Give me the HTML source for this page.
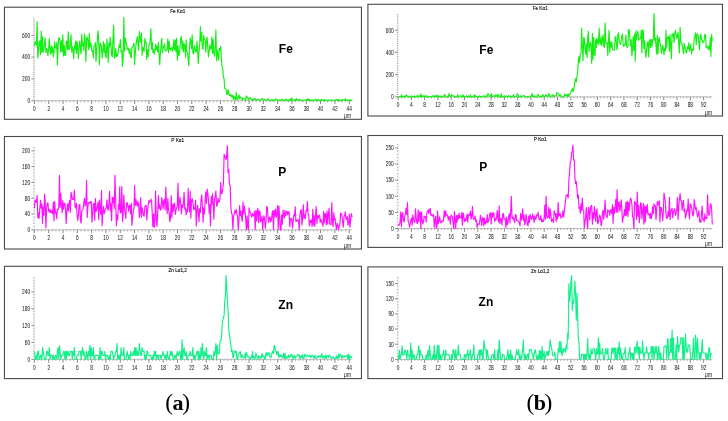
<!DOCTYPE html>
<html><head><meta charset="utf-8"><style>
html,body{margin:0;padding:0;background:#fff;}
body{width:728px;height:421px;overflow:hidden;position:relative;}
svg{position:absolute;left:0;top:0;will-change:transform;}
text{font-family:"Liberation Sans",sans-serif;}
.t{font-size:5.3px;fill:#111;stroke:#111;stroke-width:0.15;text-anchor:middle;}
.xl{font-size:6.4px;fill:#2a2a2a;stroke:#2a2a2a;stroke-width:0.06;text-anchor:middle;}
.yl{font-size:6.4px;fill:#2a2a2a;stroke:#2a2a2a;stroke-width:0.06;text-anchor:end;}
.u{font-size:6.3px;fill:#222;text-anchor:middle;}
.el{font-size:12px;font-weight:bold;fill:#000;}
.bd{fill:none;stroke:#4a4a4a;stroke-width:1.1;}
.ax{stroke:#b5b5b5;stroke-width:0.9;}
.axd{stroke:#c8c8c8;stroke-width:0.8;stroke-dasharray:1 0.8;}
.tk{stroke:#666;stroke-width:0.8;fill:none;}
.mtk{stroke:#888;stroke-width:0.7;fill:none;}
.cap{font-family:"Liberation Serif",serif;fill:#000;}
</style></head><body>
<svg width="728" height="421" viewBox="0 0 728 421">
<rect x="4.45" y="7.2" width="357.00" height="112.10" class="bd"/>
<text transform="translate(177.7 13.1) scale(0.88 1)" class="t">Fe Kα1</text>
<line x1="34.4" y1="100.7" x2="352.1" y2="100.7" class="ax"/>
<line x1="34.4" y1="98.7" x2="34.4" y2="17.9" class="axd"/>
<text transform="translate(34.40 111.2) scale(0.75 1)" class="xl">0</text>
<text transform="translate(48.71 111.2) scale(0.75 1)" class="xl">2</text>
<text transform="translate(63.02 111.2) scale(0.75 1)" class="xl">4</text>
<text transform="translate(77.33 111.2) scale(0.75 1)" class="xl">6</text>
<text transform="translate(91.64 111.2) scale(0.75 1)" class="xl">8</text>
<text transform="translate(105.95 111.2) scale(0.75 1)" class="xl">10</text>
<text transform="translate(120.26 111.2) scale(0.75 1)" class="xl">12</text>
<text transform="translate(134.57 111.2) scale(0.75 1)" class="xl">14</text>
<text transform="translate(148.88 111.2) scale(0.75 1)" class="xl">16</text>
<text transform="translate(163.19 111.2) scale(0.75 1)" class="xl">18</text>
<text transform="translate(177.50 111.2) scale(0.75 1)" class="xl">20</text>
<text transform="translate(191.81 111.2) scale(0.75 1)" class="xl">22</text>
<text transform="translate(206.12 111.2) scale(0.75 1)" class="xl">24</text>
<text transform="translate(220.43 111.2) scale(0.75 1)" class="xl">26</text>
<text transform="translate(234.74 111.2) scale(0.75 1)" class="xl">28</text>
<text transform="translate(249.05 111.2) scale(0.75 1)" class="xl">30</text>
<text transform="translate(263.36 111.2) scale(0.75 1)" class="xl">32</text>
<text transform="translate(277.67 111.2) scale(0.75 1)" class="xl">34</text>
<text transform="translate(291.98 111.2) scale(0.75 1)" class="xl">36</text>
<text transform="translate(306.29 111.2) scale(0.75 1)" class="xl">38</text>
<text transform="translate(320.60 111.2) scale(0.75 1)" class="xl">40</text>
<text transform="translate(334.91 111.2) scale(0.75 1)" class="xl">42</text>
<text transform="translate(349.22 111.2) scale(0.75 1)" class="xl">44</text>
<path d="M34.40 100.7v3.4 M48.71 100.7v3.4 M63.02 100.7v3.4 M77.33 100.7v3.4 M91.64 100.7v3.4 M105.95 100.7v3.4 M120.26 100.7v3.4 M134.57 100.7v3.4 M148.88 100.7v3.4 M163.19 100.7v3.4 M177.50 100.7v3.4 M191.81 100.7v3.4 M206.12 100.7v3.4 M220.43 100.7v3.4 M234.74 100.7v3.4 M249.05 100.7v3.4 M263.36 100.7v3.4 M277.67 100.7v3.4 M291.98 100.7v3.4 M306.29 100.7v3.4 M320.60 100.7v3.4 M334.91 100.7v3.4 M349.22 100.7v3.4" class="tk"/>
<path d="M37.98 100.7v1.6 M41.55 100.7v1.6 M45.13 100.7v1.6 M52.29 100.7v1.6 M55.86 100.7v1.6 M59.44 100.7v1.6 M66.60 100.7v1.6 M70.17 100.7v1.6 M73.75 100.7v1.6 M80.91 100.7v1.6 M84.48 100.7v1.6 M88.06 100.7v1.6 M95.22 100.7v1.6 M98.79 100.7v1.6 M102.37 100.7v1.6 M109.53 100.7v1.6 M113.10 100.7v1.6 M116.68 100.7v1.6 M123.84 100.7v1.6 M127.41 100.7v1.6 M130.99 100.7v1.6 M138.15 100.7v1.6 M141.72 100.7v1.6 M145.30 100.7v1.6 M152.46 100.7v1.6 M156.03 100.7v1.6 M159.61 100.7v1.6 M166.77 100.7v1.6 M170.34 100.7v1.6 M173.92 100.7v1.6 M181.08 100.7v1.6 M184.66 100.7v1.6 M188.23 100.7v1.6 M195.39 100.7v1.6 M198.97 100.7v1.6 M202.54 100.7v1.6 M209.70 100.7v1.6 M213.28 100.7v1.6 M216.85 100.7v1.6 M224.01 100.7v1.6 M227.59 100.7v1.6 M231.16 100.7v1.6 M238.32 100.7v1.6 M241.90 100.7v1.6 M245.47 100.7v1.6 M252.63 100.7v1.6 M256.20 100.7v1.6 M259.78 100.7v1.6 M266.94 100.7v1.6 M270.51 100.7v1.6 M274.09 100.7v1.6 M281.25 100.7v1.6 M284.82 100.7v1.6 M288.40 100.7v1.6 M295.56 100.7v1.6 M299.13 100.7v1.6 M302.71 100.7v1.6 M309.87 100.7v1.6 M313.44 100.7v1.6 M317.02 100.7v1.6 M324.18 100.7v1.6 M327.75 100.7v1.6 M331.33 100.7v1.6 M338.49 100.7v1.6 M342.06 100.7v1.6 M345.64 100.7v1.6" class="mtk"/>
<text transform="translate(30.10 103.0) scale(0.76 1)" class="yl">0</text>
<text transform="translate(30.10 81.2) scale(0.76 1)" class="yl">200</text>
<text transform="translate(30.10 59.4) scale(0.76 1)" class="yl">400</text>
<text transform="translate(30.10 37.6) scale(0.76 1)" class="yl">600</text>
<path d="M31.40 100.70h3.0 M31.40 78.90h3.0 M31.40 57.10h3.0 M31.40 35.30h3.0" class="tk"/>
<path d="M33.20 98.52h1.2 M33.20 96.34h1.2 M33.20 94.16h1.2 M33.20 91.98h1.2 M33.20 89.80h1.2 M33.20 87.62h1.2 M33.20 85.44h1.2 M33.20 83.26h1.2 M33.20 81.08h1.2 M33.20 76.72h1.2 M33.20 74.54h1.2 M33.20 72.36h1.2 M33.20 70.18h1.2 M33.20 68.00h1.2 M33.20 65.82h1.2 M33.20 63.64h1.2 M33.20 61.46h1.2 M33.20 59.28h1.2 M33.20 54.92h1.2 M33.20 52.74h1.2 M33.20 50.56h1.2 M33.20 48.38h1.2 M33.20 46.20h1.2 M33.20 44.02h1.2 M33.20 41.84h1.2 M33.20 39.66h1.2 M33.20 37.48h1.2 M33.20 33.12h1.2 M33.20 30.94h1.2 M33.20 28.76h1.2 M33.20 26.58h1.2 M33.20 24.40h1.2 M33.20 22.22h1.2 M33.20 20.04h1.2 M33.20 17.86h1.2" class="mtk"/>
<text transform="translate(347.4 117.8) scale(0.85 1)" class="u">μm</text>
<polyline points="34.4,45.9 35.1,41.8 35.8,42.7 36.4,45.2 37.1,21.7 37.8,58.0 38.5,50.7 39.1,42.0 39.8,40.8 40.5,54.7 41.2,31.0 41.9,52.2 42.5,36.8 43.2,52.1 43.9,49.2 44.6,41.8 45.2,37.8 45.9,52.4 46.6,48.5 47.3,50.2 47.9,55.7 48.6,48.9 49.3,38.7 50.0,50.0 50.7,54.3 51.3,45.9 52.0,52.6 52.7,47.0 53.4,56.9 54.0,52.3 54.7,41.5 55.4,47.2 56.1,48.7 56.8,42.4 57.4,64.9 58.1,46.9 58.8,37.6 59.5,38.5 60.1,41.2 60.8,51.9 61.5,40.5 62.2,51.4 62.8,34.7 63.5,55.9 64.2,45.4 64.9,55.0 65.6,55.7 66.2,41.2 66.9,40.9 67.6,49.8 68.3,31.8 68.9,48.8 69.6,49.7 70.3,44.1 71.0,34.6 71.7,52.3 72.3,46.6 73.0,49.8 73.7,58.6 74.4,45.5 75.0,49.3 75.7,40.8 76.4,53.4 77.1,41.5 77.8,48.5 78.4,58.5 79.1,46.1 79.8,41.2 80.5,49.6 81.1,53.8 81.8,34.3 82.5,46.0 83.2,43.1 83.8,50.5 84.5,33.8 85.2,40.7 85.9,61.5 86.6,38.3 87.2,37.0 87.9,40.8 88.6,49.4 89.3,33.5 89.9,47.3 90.6,43.1 91.3,45.0 92.0,51.4 92.7,50.7 93.3,57.9 94.0,45.8 94.7,45.5 95.4,42.7 96.0,61.5 96.7,49.2 97.4,39.3 98.1,30.9 98.7,39.9 99.4,64.7 100.1,43.4 100.8,43.8 101.5,47.2 102.1,58.1 102.8,51.7 103.5,41.5 104.2,52.4 104.8,44.1 105.5,55.5 106.2,57.8 106.9,39.2 107.6,49.3 108.2,62.4 108.9,43.1 109.6,47.1 110.3,37.2 110.9,43.7 111.6,55.1 112.3,56.7 113.0,37.8 113.7,25.2 114.3,58.1 115.0,57.6 115.7,48.5 116.4,56.5 117.0,54.1 117.7,55.9 118.4,50.6 119.1,45.1 119.7,47.5 120.4,39.6 121.1,51.9 121.8,50.5 122.5,66.2 123.1,59.5 123.8,17.3 124.5,51.1 125.2,38.1 125.8,40.7 126.5,44.0 127.2,49.6 127.9,47.9 128.6,48.9 129.2,53.5 129.9,48.8 130.6,56.6 131.3,57.8 131.9,47.7 132.6,46.8 133.3,45.5 134.0,43.1 134.6,64.6 135.3,52.4 136.0,44.9 136.7,39.9 137.4,36.5 138.0,43.8 138.7,50.2 139.4,31.4 140.1,39.8 140.7,42.1 141.4,33.1 142.1,55.1 142.8,47.2 143.5,49.9 144.1,51.5 144.8,38.6 145.5,42.8 146.2,42.4 146.8,59.5 147.5,49.5 148.2,56.7 148.9,45.0 149.6,44.8 150.2,39.3 150.9,28.8 151.6,49.1 152.3,42.3 152.9,52.5 153.6,49.4 154.3,54.3 155.0,49.6 155.6,44.3 156.3,49.6 157.0,46.2 157.7,51.9 158.4,42.3 159.0,53.2 159.7,64.7 160.4,51.8 161.1,45.3 161.7,38.3 162.4,52.6 163.1,47.9 163.8,46.6 164.5,43.8 165.1,50.5 165.8,51.2 166.5,50.2 167.2,49.5 167.8,38.8 168.5,52.8 169.2,41.3 169.9,48.5 170.5,50.3 171.2,48.1 171.9,47.4 172.6,51.4 173.3,46.5 173.9,39.6 174.6,49.9 175.3,40.0 176.0,51.6 176.6,38.2 177.3,60.1 178.0,46.2 178.7,55.5 179.4,54.6 180.0,47.4 180.7,38.9 181.4,36.2 182.1,49.1 182.7,41.5 183.4,51.7 184.1,43.3 184.8,46.7 185.5,57.2 186.1,39.8 186.8,51.7 187.5,52.4 188.2,59.7 188.8,65.8 189.5,48.8 190.2,37.8 190.9,41.7 191.5,48.4 192.2,34.9 192.9,52.8 193.6,53.8 194.3,45.8 194.9,49.0 195.6,51.7 196.3,52.0 197.0,41.2 197.6,48.9 198.3,63.3 199.0,51.7 199.7,44.4 200.4,26.6 201.0,40.9 201.7,32.4 202.4,48.7 203.1,49.0 203.7,35.4 204.4,39.3 205.1,40.1 205.8,52.2 206.4,41.6 207.1,37.0 207.8,48.4 208.5,56.8 209.2,50.7 209.8,44.9 210.5,49.0 211.2,48.5 211.9,36.9 212.5,53.3 213.2,39.4 213.9,53.6 214.6,56.1 215.3,46.5 215.9,29.9 216.6,60.7 217.3,50.4 218.0,55.9 218.6,60.1 219.3,48.4 220.0,50.5 220.7,46.3 221.4,59.9 222.0,65.8 222.7,68.4 223.4,77.3 224.1,78.6 224.7,88.3 225.4,88.8 226.1,89.2 226.8,94.3 227.4,94.3 228.1,89.7 228.8,93.6 229.5,95.5 230.2,94.3 230.8,96.4 231.5,94.9 232.2,97.1 232.9,95.3 233.5,99.4 234.2,96.1 234.9,98.9 235.6,99.8 236.3,92.2 236.9,98.8 237.6,99.7 238.3,96.7 239.0,94.8 239.6,98.8 240.3,96.9 241.0,97.9 241.7,98.9 242.3,99.8 243.0,98.0 243.7,98.9 244.4,99.0 245.1,99.0 245.7,100.7 246.4,95.8 247.1,97.5 247.8,97.5 248.4,99.9 249.1,98.4 249.8,98.4 250.5,97.6 251.2,99.9 251.8,99.9 252.5,100.0 253.2,99.2 253.9,100.0 254.5,98.5 255.2,98.5 255.9,100.0 256.6,100.0 257.3,99.3 257.9,99.3 258.6,99.3 259.3,100.0 260.0,100.7 260.6,100.0 261.3,98.7 262.0,99.3 262.7,98.7 263.3,99.4 264.0,100.0 264.7,99.4 265.4,100.0 266.1,100.0 266.7,100.0 267.4,99.4 268.1,98.7 268.8,100.0 269.4,100.7 270.1,100.7 270.8,100.7 271.5,100.0 272.2,99.4 272.8,100.7 273.5,100.0 274.2,100.7 274.9,100.0 275.5,98.7 276.2,99.4 276.9,100.0 277.6,100.7 278.2,100.0 278.9,100.7 279.6,100.0 280.3,100.0 281.0,100.0 281.6,99.4 282.3,100.0 283.0,99.4 283.7,100.7 284.3,100.7 285.0,100.0 285.7,99.4 286.4,99.4 287.1,100.7 287.7,100.0 288.4,100.7 289.1,100.0 289.8,100.7 290.4,98.7 291.1,100.7 291.8,98.1 292.5,100.0 293.2,100.0 293.8,100.7 294.5,100.0 295.2,99.4 295.9,100.7 296.5,98.7 297.2,100.0 297.9,99.4 298.6,100.0 299.2,100.0 299.9,99.4 300.6,100.0 301.3,100.0 302.0,100.7 302.6,100.7 303.3,100.7 304.0,100.0 304.7,100.0 305.3,100.0 306.0,100.0 306.7,99.4 307.4,100.7 308.1,98.7 308.7,100.0 309.4,99.4 310.1,100.7 310.8,100.0 311.4,100.7 312.1,100.0 312.8,100.7 313.5,100.7 314.1,100.0 314.8,100.0 315.5,99.4 316.2,100.7 316.9,100.0 317.5,99.4 318.2,100.7 318.9,100.0 319.6,100.7 320.2,100.0 320.9,100.7 321.6,99.4 322.3,100.0 323.0,100.7 323.6,100.0 324.3,99.4 325.0,100.7 325.7,100.7 326.3,100.0 327.0,100.7 327.7,100.7 328.4,100.0 329.1,100.0 329.7,100.7 330.4,100.0 331.1,100.0 331.8,100.0 332.4,100.0 333.1,100.0 333.8,100.7 334.5,100.7 335.1,100.7 335.8,99.4 336.5,100.0 337.2,99.4 337.9,100.7 338.5,100.0 339.2,99.4 339.9,100.7 340.6,100.7 341.2,100.0 341.9,100.7 342.6,99.4 343.3,100.0 344.0,100.0 344.6,100.7 345.3,98.7 346.0,100.0 346.7,100.0 347.3,100.7 348.0,100.0 348.7,100.0 349.4,100.7 350.0,100.7 350.7,100.0 351.4,100.7 352.1,99.4" fill="none" stroke="#12f012" stroke-width="1.15" stroke-linejoin="round"/>
<text x="278.8" y="52.8" class="el">Fe</text>
<rect x="4.45" y="136.5" width="357.00" height="112.50" class="bd"/>
<text transform="translate(177.7 142.4) scale(0.88 1)" class="t">P Kα1</text>
<line x1="34.4" y1="229.8" x2="352.1" y2="229.8" class="ax"/>
<line x1="34.4" y1="227.8" x2="34.4" y2="146.9" class="axd"/>
<text transform="translate(34.40 240.3) scale(0.75 1)" class="xl">0</text>
<text transform="translate(48.71 240.3) scale(0.75 1)" class="xl">2</text>
<text transform="translate(63.02 240.3) scale(0.75 1)" class="xl">4</text>
<text transform="translate(77.33 240.3) scale(0.75 1)" class="xl">6</text>
<text transform="translate(91.64 240.3) scale(0.75 1)" class="xl">8</text>
<text transform="translate(105.95 240.3) scale(0.75 1)" class="xl">10</text>
<text transform="translate(120.26 240.3) scale(0.75 1)" class="xl">12</text>
<text transform="translate(134.57 240.3) scale(0.75 1)" class="xl">14</text>
<text transform="translate(148.88 240.3) scale(0.75 1)" class="xl">16</text>
<text transform="translate(163.19 240.3) scale(0.75 1)" class="xl">18</text>
<text transform="translate(177.50 240.3) scale(0.75 1)" class="xl">20</text>
<text transform="translate(191.81 240.3) scale(0.75 1)" class="xl">22</text>
<text transform="translate(206.12 240.3) scale(0.75 1)" class="xl">24</text>
<text transform="translate(220.43 240.3) scale(0.75 1)" class="xl">26</text>
<text transform="translate(234.74 240.3) scale(0.75 1)" class="xl">28</text>
<text transform="translate(249.05 240.3) scale(0.75 1)" class="xl">30</text>
<text transform="translate(263.36 240.3) scale(0.75 1)" class="xl">32</text>
<text transform="translate(277.67 240.3) scale(0.75 1)" class="xl">34</text>
<text transform="translate(291.98 240.3) scale(0.75 1)" class="xl">36</text>
<text transform="translate(306.29 240.3) scale(0.75 1)" class="xl">38</text>
<text transform="translate(320.60 240.3) scale(0.75 1)" class="xl">40</text>
<text transform="translate(334.91 240.3) scale(0.75 1)" class="xl">42</text>
<text transform="translate(349.22 240.3) scale(0.75 1)" class="xl">44</text>
<path d="M34.40 229.8v3.4 M48.71 229.8v3.4 M63.02 229.8v3.4 M77.33 229.8v3.4 M91.64 229.8v3.4 M105.95 229.8v3.4 M120.26 229.8v3.4 M134.57 229.8v3.4 M148.88 229.8v3.4 M163.19 229.8v3.4 M177.50 229.8v3.4 M191.81 229.8v3.4 M206.12 229.8v3.4 M220.43 229.8v3.4 M234.74 229.8v3.4 M249.05 229.8v3.4 M263.36 229.8v3.4 M277.67 229.8v3.4 M291.98 229.8v3.4 M306.29 229.8v3.4 M320.60 229.8v3.4 M334.91 229.8v3.4 M349.22 229.8v3.4" class="tk"/>
<path d="M37.98 229.8v1.6 M41.55 229.8v1.6 M45.13 229.8v1.6 M52.29 229.8v1.6 M55.86 229.8v1.6 M59.44 229.8v1.6 M66.60 229.8v1.6 M70.17 229.8v1.6 M73.75 229.8v1.6 M80.91 229.8v1.6 M84.48 229.8v1.6 M88.06 229.8v1.6 M95.22 229.8v1.6 M98.79 229.8v1.6 M102.37 229.8v1.6 M109.53 229.8v1.6 M113.10 229.8v1.6 M116.68 229.8v1.6 M123.84 229.8v1.6 M127.41 229.8v1.6 M130.99 229.8v1.6 M138.15 229.8v1.6 M141.72 229.8v1.6 M145.30 229.8v1.6 M152.46 229.8v1.6 M156.03 229.8v1.6 M159.61 229.8v1.6 M166.77 229.8v1.6 M170.34 229.8v1.6 M173.92 229.8v1.6 M181.08 229.8v1.6 M184.66 229.8v1.6 M188.23 229.8v1.6 M195.39 229.8v1.6 M198.97 229.8v1.6 M202.54 229.8v1.6 M209.70 229.8v1.6 M213.28 229.8v1.6 M216.85 229.8v1.6 M224.01 229.8v1.6 M227.59 229.8v1.6 M231.16 229.8v1.6 M238.32 229.8v1.6 M241.90 229.8v1.6 M245.47 229.8v1.6 M252.63 229.8v1.6 M256.20 229.8v1.6 M259.78 229.8v1.6 M266.94 229.8v1.6 M270.51 229.8v1.6 M274.09 229.8v1.6 M281.25 229.8v1.6 M284.82 229.8v1.6 M288.40 229.8v1.6 M295.56 229.8v1.6 M299.13 229.8v1.6 M302.71 229.8v1.6 M309.87 229.8v1.6 M313.44 229.8v1.6 M317.02 229.8v1.6 M324.18 229.8v1.6 M327.75 229.8v1.6 M331.33 229.8v1.6 M338.49 229.8v1.6 M342.06 229.8v1.6 M345.64 229.8v1.6" class="mtk"/>
<text transform="translate(30.10 232.1) scale(0.76 1)" class="yl">0</text>
<text transform="translate(30.10 216.3) scale(0.76 1)" class="yl">40</text>
<text transform="translate(30.10 200.5) scale(0.76 1)" class="yl">80</text>
<text transform="translate(30.10 184.7) scale(0.76 1)" class="yl">120</text>
<text transform="translate(30.10 168.9) scale(0.76 1)" class="yl">160</text>
<text transform="translate(30.10 153.1) scale(0.76 1)" class="yl">200</text>
<path d="M31.40 229.80h3.0 M31.40 214.00h3.0 M31.40 198.20h3.0 M31.40 182.40h3.0 M31.40 166.60h3.0 M31.40 150.80h3.0" class="tk"/>
<path d="M33.20 226.64h1.2 M33.20 223.48h1.2 M33.20 220.32h1.2 M33.20 217.16h1.2 M33.20 210.84h1.2 M33.20 207.68h1.2 M33.20 204.52h1.2 M33.20 201.36h1.2 M33.20 195.04h1.2 M33.20 191.88h1.2 M33.20 188.72h1.2 M33.20 185.56h1.2 M33.20 179.24h1.2 M33.20 176.08h1.2 M33.20 172.92h1.2 M33.20 169.76h1.2 M33.20 163.44h1.2 M33.20 160.28h1.2 M33.20 157.12h1.2 M33.20 153.96h1.2 M33.20 147.64h1.2" class="mtk"/>
<text transform="translate(347.4 247.5) scale(0.85 1)" class="u">μm</text>
<polyline points="34.4,208.1 35.1,199.8 35.8,202.2 36.4,202.4 37.1,195.3 37.8,217.6 38.5,213.0 39.1,218.5 39.8,208.9 40.5,200.2 41.2,208.2 41.9,204.1 42.5,223.2 43.2,206.9 43.9,215.3 44.6,194.0 45.2,201.0 45.9,227.8 46.6,208.5 47.3,203.2 47.9,202.9 48.6,210.8 49.3,212.0 50.0,209.0 50.7,212.9 51.3,212.8 52.0,210.3 52.7,213.9 53.4,202.0 54.0,220.8 54.7,201.5 55.4,213.0 56.1,212.4 56.8,218.8 57.4,209.2 58.1,210.0 58.8,206.6 59.5,175.3 60.1,207.3 60.8,193.6 61.5,204.8 62.2,212.6 62.8,200.5 63.5,209.1 64.2,203.3 64.9,203.2 65.6,211.2 66.2,223.5 66.9,210.8 67.6,203.7 68.3,211.1 68.9,204.6 69.6,200.3 70.3,212.4 71.0,192.3 71.7,195.1 72.3,199.5 73.0,198.8 73.7,199.3 74.4,190.1 75.0,206.6 75.7,208.1 76.4,203.3 77.1,215.3 77.8,220.5 78.4,215.1 79.1,205.1 79.8,204.3 80.5,220.4 81.1,223.1 81.8,210.6 82.5,209.6 83.2,208.5 83.8,202.7 84.5,198.2 85.2,206.2 85.9,203.2 86.6,180.4 87.2,217.5 87.9,206.2 88.6,202.7 89.3,202.2 89.9,203.3 90.6,201.8 91.3,201.6 92.0,222.1 92.7,214.0 93.3,204.4 94.0,203.3 94.7,220.2 95.4,198.6 96.0,211.6 96.7,209.9 97.4,205.9 98.1,202.0 98.7,219.6 99.4,200.1 100.1,207.5 100.8,214.3 101.5,190.3 102.1,225.7 102.8,213.3 103.5,206.6 104.2,213.8 104.8,210.7 105.5,209.3 106.2,207.7 106.9,199.8 107.6,208.3 108.2,210.2 108.9,203.7 109.6,191.3 110.3,210.8 110.9,203.9 111.6,220.8 112.3,197.2 113.0,202.8 113.7,197.3 114.3,208.6 115.0,175.3 115.7,200.9 116.4,225.9 117.0,215.1 117.7,220.0 118.4,204.4 119.1,209.5 119.7,186.9 120.4,213.0 121.1,212.4 121.8,186.4 122.5,221.6 123.1,215.3 123.8,194.8 124.5,209.1 125.2,213.0 125.8,218.4 126.5,203.4 127.2,202.7 127.9,206.0 128.6,211.2 129.2,205.6 129.9,205.0 130.6,213.6 131.3,203.0 131.9,225.2 132.6,218.5 133.3,210.5 134.0,209.0 134.6,185.6 135.3,205.4 136.0,199.5 136.7,204.4 137.4,206.3 138.0,201.3 138.7,204.8 139.4,217.4 140.1,209.7 140.7,197.6 141.4,217.3 142.1,207.6 142.8,211.2 143.5,215.4 144.1,216.3 144.8,207.3 145.5,205.5 146.2,205.6 146.8,219.9 147.5,210.4 148.2,205.3 148.9,200.4 149.6,202.6 150.2,201.3 150.9,199.1 151.6,201.4 152.3,214.7 152.9,226.6 153.6,213.9 154.3,227.5 155.0,221.8 155.6,191.0 156.3,217.2 157.0,226.4 157.7,212.9 158.4,195.6 159.0,208.4 159.7,204.7 160.4,210.3 161.1,208.8 161.7,197.7 162.4,201.6 163.1,208.8 163.8,200.8 164.5,199.3 165.1,209.9 165.8,187.1 166.5,206.0 167.2,213.6 167.8,198.6 168.5,209.4 169.2,213.2 169.9,221.8 170.5,218.5 171.2,195.6 171.9,217.4 172.6,204.6 173.3,211.1 173.9,203.9 174.6,203.1 175.3,214.4 176.0,210.5 176.6,207.3 177.3,207.1 178.0,183.2 178.7,210.6 179.4,202.8 180.0,197.1 180.7,203.4 181.4,213.9 182.1,204.5 182.7,207.2 183.4,203.9 184.1,192.4 184.8,209.3 185.5,207.6 186.1,214.8 186.8,209.8 187.5,212.1 188.2,188.3 188.8,204.8 189.5,212.0 190.2,191.3 190.9,218.1 191.5,200.0 192.2,198.7 192.9,202.3 193.6,209.1 194.3,208.0 194.9,209.7 195.6,200.3 196.3,226.0 197.0,211.0 197.6,205.4 198.3,211.4 199.0,221.6 199.7,208.6 200.4,212.7 201.0,199.8 201.7,194.8 202.4,205.8 203.1,222.3 203.7,207.9 204.4,213.9 205.1,200.5 205.8,192.1 206.4,203.5 207.1,189.1 207.8,193.6 208.5,200.3 209.2,213.2 209.8,204.4 210.5,225.9 211.2,196.6 211.9,204.1 212.5,193.7 213.2,202.6 213.9,219.3 214.6,198.6 215.3,196.1 215.9,191.1 216.6,206.2 217.3,204.7 218.0,198.2 218.6,202.1 219.3,201.8 220.0,198.8 220.7,182.5 221.4,193.7 222.0,193.4 222.7,189.3 223.4,183.5 224.1,154.4 224.7,155.6 225.4,158.1 226.1,159.7 226.8,153.9 227.4,145.7 228.1,172.8 228.8,169.7 229.5,184.9 230.2,185.4 230.8,205.7 231.5,212.8 232.2,214.8 232.9,229.8 233.5,217.0 234.2,213.8 234.9,210.6 235.6,213.0 236.3,209.3 236.9,214.4 237.6,216.6 238.3,229.8 239.0,220.3 239.6,205.5 240.3,215.7 241.0,210.9 241.7,218.1 242.3,221.3 243.0,202.1 243.7,214.0 244.4,206.0 245.1,212.8 245.7,218.7 246.4,229.8 247.1,215.9 247.8,227.6 248.4,229.8 249.1,207.8 249.8,211.5 250.5,212.1 251.2,216.2 251.8,216.8 252.5,213.6 253.2,215.5 253.9,216.1 254.5,211.4 255.2,229.8 255.9,210.3 256.6,221.1 257.3,210.6 257.9,208.4 258.6,222.6 259.3,211.1 260.0,211.2 260.6,221.8 261.3,220.6 262.0,216.1 262.7,229.8 263.3,220.1 264.0,215.7 264.7,220.2 265.4,228.3 266.1,219.8 266.7,206.5 267.4,207.8 268.1,217.9 268.8,222.7 269.4,217.2 270.1,217.0 270.8,221.9 271.5,219.5 272.2,212.8 272.8,210.6 273.5,229.8 274.2,210.3 274.9,216.2 275.5,209.1 276.2,217.3 276.9,214.1 277.6,205.7 278.2,229.8 278.9,206.1 279.6,215.8 280.3,229.8 281.0,229.8 281.6,215.0 282.3,224.3 283.0,210.2 283.7,215.6 284.3,218.1 285.0,210.2 285.7,215.8 286.4,212.0 287.1,211.4 287.7,214.9 288.4,211.7 289.1,211.7 289.8,226.6 290.4,219.0 291.1,218.0 291.8,219.8 292.5,228.1 293.2,221.1 293.8,214.9 294.5,215.9 295.2,206.7 295.9,221.4 296.5,220.3 297.2,221.2 297.9,219.5 298.6,221.5 299.2,229.8 299.9,215.0 300.6,210.6 301.3,209.7 302.0,224.9 302.6,218.8 303.3,204.7 304.0,218.2 304.7,215.1 305.3,218.6 306.0,210.6 306.7,210.9 307.4,201.6 308.1,214.2 308.7,214.5 309.4,225.9 310.1,220.4 310.8,222.5 311.4,219.9 312.1,226.7 312.8,209.4 313.5,224.9 314.1,215.9 314.8,226.4 315.5,215.4 316.2,206.5 316.9,223.4 317.5,215.3 318.2,218.3 318.9,215.9 319.6,215.0 320.2,222.2 320.9,219.1 321.6,222.0 322.3,223.6 323.0,226.3 323.6,211.4 324.3,223.0 325.0,213.5 325.7,214.3 326.3,224.9 327.0,211.0 327.7,223.9 328.4,213.8 329.1,208.2 329.7,223.0 330.4,224.5 331.1,224.6 331.8,202.6 332.4,220.8 333.1,226.8 333.8,212.7 334.5,219.5 335.1,218.5 335.8,225.1 336.5,229.8 337.2,223.3 337.9,225.5 338.5,229.4 339.2,225.8 339.9,224.9 340.6,213.1 341.2,213.8 341.9,215.1 342.6,222.2 343.3,227.1 344.0,216.6 344.6,215.5 345.3,211.9 346.0,218.8 346.7,219.5 347.3,216.6 348.0,224.9 348.7,224.1 349.4,214.4 350.0,227.2 350.7,219.3 351.4,213.5 352.1,217.2" fill="none" stroke="#ff12ff" stroke-width="1.15" stroke-linejoin="round"/>
<text x="278.3" y="175.9" class="el">P</text>
<rect x="4.45" y="266.3" width="357.00" height="112.30" class="bd"/>
<text transform="translate(177.7 272.2) scale(0.88 1)" class="t">Zn Lα1,2</text>
<line x1="34.4" y1="359.3" x2="352.1" y2="359.3" class="ax"/>
<line x1="34.4" y1="357.3" x2="34.4" y2="276.5" class="axd"/>
<text transform="translate(34.40 369.8) scale(0.75 1)" class="xl">0</text>
<text transform="translate(48.71 369.8) scale(0.75 1)" class="xl">2</text>
<text transform="translate(63.02 369.8) scale(0.75 1)" class="xl">4</text>
<text transform="translate(77.33 369.8) scale(0.75 1)" class="xl">6</text>
<text transform="translate(91.64 369.8) scale(0.75 1)" class="xl">8</text>
<text transform="translate(105.95 369.8) scale(0.75 1)" class="xl">10</text>
<text transform="translate(120.26 369.8) scale(0.75 1)" class="xl">12</text>
<text transform="translate(134.57 369.8) scale(0.75 1)" class="xl">14</text>
<text transform="translate(148.88 369.8) scale(0.75 1)" class="xl">16</text>
<text transform="translate(163.19 369.8) scale(0.75 1)" class="xl">18</text>
<text transform="translate(177.50 369.8) scale(0.75 1)" class="xl">20</text>
<text transform="translate(191.81 369.8) scale(0.75 1)" class="xl">22</text>
<text transform="translate(206.12 369.8) scale(0.75 1)" class="xl">24</text>
<text transform="translate(220.43 369.8) scale(0.75 1)" class="xl">26</text>
<text transform="translate(234.74 369.8) scale(0.75 1)" class="xl">28</text>
<text transform="translate(249.05 369.8) scale(0.75 1)" class="xl">30</text>
<text transform="translate(263.36 369.8) scale(0.75 1)" class="xl">32</text>
<text transform="translate(277.67 369.8) scale(0.75 1)" class="xl">34</text>
<text transform="translate(291.98 369.8) scale(0.75 1)" class="xl">36</text>
<text transform="translate(306.29 369.8) scale(0.75 1)" class="xl">38</text>
<text transform="translate(320.60 369.8) scale(0.75 1)" class="xl">40</text>
<text transform="translate(334.91 369.8) scale(0.75 1)" class="xl">42</text>
<text transform="translate(349.22 369.8) scale(0.75 1)" class="xl">44</text>
<path d="M34.40 359.3v3.4 M48.71 359.3v3.4 M63.02 359.3v3.4 M77.33 359.3v3.4 M91.64 359.3v3.4 M105.95 359.3v3.4 M120.26 359.3v3.4 M134.57 359.3v3.4 M148.88 359.3v3.4 M163.19 359.3v3.4 M177.50 359.3v3.4 M191.81 359.3v3.4 M206.12 359.3v3.4 M220.43 359.3v3.4 M234.74 359.3v3.4 M249.05 359.3v3.4 M263.36 359.3v3.4 M277.67 359.3v3.4 M291.98 359.3v3.4 M306.29 359.3v3.4 M320.60 359.3v3.4 M334.91 359.3v3.4 M349.22 359.3v3.4" class="tk"/>
<path d="M37.98 359.3v1.6 M41.55 359.3v1.6 M45.13 359.3v1.6 M52.29 359.3v1.6 M55.86 359.3v1.6 M59.44 359.3v1.6 M66.60 359.3v1.6 M70.17 359.3v1.6 M73.75 359.3v1.6 M80.91 359.3v1.6 M84.48 359.3v1.6 M88.06 359.3v1.6 M95.22 359.3v1.6 M98.79 359.3v1.6 M102.37 359.3v1.6 M109.53 359.3v1.6 M113.10 359.3v1.6 M116.68 359.3v1.6 M123.84 359.3v1.6 M127.41 359.3v1.6 M130.99 359.3v1.6 M138.15 359.3v1.6 M141.72 359.3v1.6 M145.30 359.3v1.6 M152.46 359.3v1.6 M156.03 359.3v1.6 M159.61 359.3v1.6 M166.77 359.3v1.6 M170.34 359.3v1.6 M173.92 359.3v1.6 M181.08 359.3v1.6 M184.66 359.3v1.6 M188.23 359.3v1.6 M195.39 359.3v1.6 M198.97 359.3v1.6 M202.54 359.3v1.6 M209.70 359.3v1.6 M213.28 359.3v1.6 M216.85 359.3v1.6 M224.01 359.3v1.6 M227.59 359.3v1.6 M231.16 359.3v1.6 M238.32 359.3v1.6 M241.90 359.3v1.6 M245.47 359.3v1.6 M252.63 359.3v1.6 M256.20 359.3v1.6 M259.78 359.3v1.6 M266.94 359.3v1.6 M270.51 359.3v1.6 M274.09 359.3v1.6 M281.25 359.3v1.6 M284.82 359.3v1.6 M288.40 359.3v1.6 M295.56 359.3v1.6 M299.13 359.3v1.6 M302.71 359.3v1.6 M309.87 359.3v1.6 M313.44 359.3v1.6 M317.02 359.3v1.6 M324.18 359.3v1.6 M327.75 359.3v1.6 M331.33 359.3v1.6 M338.49 359.3v1.6 M342.06 359.3v1.6 M345.64 359.3v1.6" class="mtk"/>
<text transform="translate(30.10 361.6) scale(0.76 1)" class="yl">0</text>
<text transform="translate(30.10 344.8) scale(0.76 1)" class="yl">60</text>
<text transform="translate(30.10 327.9) scale(0.76 1)" class="yl">120</text>
<text transform="translate(30.10 311.1) scale(0.76 1)" class="yl">180</text>
<text transform="translate(30.10 294.2) scale(0.76 1)" class="yl">240</text>
<path d="M31.40 359.30h3.0 M31.40 342.45h3.0 M31.40 325.60h3.0 M31.40 308.75h3.0 M31.40 291.90h3.0" class="tk"/>
<path d="M33.20 356.49h1.2 M33.20 353.68h1.2 M33.20 350.88h1.2 M33.20 348.07h1.2 M33.20 345.26h1.2 M33.20 339.64h1.2 M33.20 336.83h1.2 M33.20 334.02h1.2 M33.20 331.22h1.2 M33.20 328.41h1.2 M33.20 322.79h1.2 M33.20 319.98h1.2 M33.20 317.18h1.2 M33.20 314.37h1.2 M33.20 311.56h1.2 M33.20 305.94h1.2 M33.20 303.13h1.2 M33.20 300.32h1.2 M33.20 297.52h1.2 M33.20 294.71h1.2 M33.20 289.09h1.2 M33.20 286.28h1.2 M33.20 283.48h1.2 M33.20 280.67h1.2 M33.20 277.86h1.2" class="mtk"/>
<text transform="translate(347.4 377.1) scale(0.85 1)" class="u">μm</text>
<polyline points="34.4,351.4 35.1,359.3 35.8,359.3 36.4,355.4 37.1,359.3 37.8,351.4 38.5,351.4 39.1,359.3 39.8,359.3 40.5,355.4 41.2,355.4 41.9,359.3 42.5,347.5 43.2,351.4 43.9,355.4 44.6,359.3 45.2,359.3 45.9,359.3 46.6,351.4 47.3,351.4 47.9,355.4 48.6,355.4 49.3,347.5 50.0,359.3 50.7,355.4 51.3,355.4 52.0,355.4 52.7,359.3 53.4,355.4 54.0,359.3 54.7,359.3 55.4,355.4 56.1,355.4 56.8,359.3 57.4,351.4 58.1,347.5 58.8,359.3 59.5,345.8 60.1,351.4 60.8,359.3 61.5,355.4 62.2,355.4 62.8,355.4 63.5,351.4 64.2,351.4 64.9,359.3 65.6,351.4 66.2,359.3 66.9,351.4 67.6,355.4 68.3,351.4 68.9,355.4 69.6,355.4 70.3,351.4 71.0,351.4 71.7,351.4 72.3,359.3 73.0,351.4 73.7,355.4 74.4,347.5 75.0,359.3 75.7,359.3 76.4,359.3 77.1,355.4 77.8,355.4 78.4,355.4 79.1,351.4 79.8,351.4 80.5,351.4 81.1,359.3 81.8,351.4 82.5,347.5 83.2,355.4 83.8,351.4 84.5,355.4 85.2,359.3 85.9,359.3 86.6,351.4 87.2,355.4 87.9,359.3 88.6,351.4 89.3,355.4 89.9,345.3 90.6,359.3 91.3,347.5 92.0,355.4 92.7,355.4 93.3,347.5 94.0,359.3 94.7,359.3 95.4,355.4 96.0,355.4 96.7,355.4 97.4,355.4 98.1,355.4 98.7,359.3 99.4,359.3 100.1,347.5 100.8,359.3 101.5,351.4 102.1,351.4 102.8,355.4 103.5,355.4 104.2,355.4 104.8,351.4 105.5,359.3 106.2,355.4 106.9,355.4 107.6,355.4 108.2,359.3 108.9,359.3 109.6,355.4 110.3,359.3 110.9,351.4 111.6,351.4 112.3,351.4 113.0,355.4 113.7,359.3 114.3,355.4 115.0,355.4 115.7,351.4 116.4,351.4 117.0,343.5 117.7,359.3 118.4,355.4 119.1,359.3 119.7,355.4 120.4,359.3 121.1,347.5 121.8,355.4 122.5,355.4 123.1,355.4 123.8,347.5 124.5,359.3 125.2,359.3 125.8,359.3 126.5,355.4 127.2,351.4 127.9,355.4 128.6,359.3 129.2,355.4 129.9,359.3 130.6,351.4 131.3,355.4 131.9,355.4 132.6,355.4 133.3,351.4 134.0,355.4 134.6,347.5 135.3,355.4 136.0,347.5 136.7,355.4 137.4,351.4 138.0,355.4 138.7,355.4 139.4,343.5 140.1,351.4 140.7,355.4 141.4,355.4 142.1,347.5 142.8,351.4 143.5,351.4 144.1,351.4 144.8,359.3 145.5,355.4 146.2,359.3 146.8,351.4 147.5,351.4 148.2,355.4 148.9,355.4 149.6,355.4 150.2,355.4 150.9,355.4 151.6,359.3 152.3,359.3 152.9,355.4 153.6,359.3 154.3,351.4 155.0,355.4 155.6,351.4 156.3,359.3 157.0,355.4 157.7,355.4 158.4,359.3 159.0,355.4 159.7,355.4 160.4,355.4 161.1,359.3 161.7,355.4 162.4,355.4 163.1,351.4 163.8,355.4 164.5,355.4 165.1,359.3 165.8,355.4 166.5,359.3 167.2,351.4 167.8,355.4 168.5,359.3 169.2,359.3 169.9,355.4 170.5,351.4 171.2,355.4 171.9,351.4 172.6,355.4 173.3,359.3 173.9,359.3 174.6,355.4 175.3,355.4 176.0,359.3 176.6,355.4 177.3,351.4 178.0,355.4 178.7,355.4 179.4,351.4 180.0,351.4 180.7,359.3 181.4,359.3 182.1,339.6 182.7,359.3 183.4,351.4 184.1,347.5 184.8,355.4 185.5,355.4 186.1,351.4 186.8,359.3 187.5,359.3 188.2,355.4 188.8,355.4 189.5,355.4 190.2,351.4 190.9,355.4 191.5,355.4 192.2,355.4 192.9,347.5 193.6,359.3 194.3,355.4 194.9,359.3 195.6,355.4 196.3,355.4 197.0,351.4 197.6,351.4 198.3,359.3 199.0,351.4 199.7,359.3 200.4,359.3 201.0,347.5 201.7,355.4 202.4,343.5 203.1,355.4 203.7,359.3 204.4,351.4 205.1,355.4 205.8,355.4 206.4,347.5 207.1,359.3 207.8,355.4 208.5,355.4 209.2,359.3 209.8,355.4 210.5,355.4 211.2,355.4 211.9,359.3 212.5,359.3 213.2,359.3 213.9,351.4 214.6,355.4 215.3,351.4 215.9,343.5 216.6,359.3 217.3,345.3 218.0,353.6 218.6,353.0 219.3,353.6 220.0,341.6 220.7,340.2 221.4,339.2 222.0,327.0 222.7,321.3 223.4,317.4 224.1,315.8 224.7,301.8 225.4,296.4 226.1,275.6 226.8,288.3 227.4,301.0 228.1,311.3 228.8,329.2 229.5,335.4 230.2,340.5 230.8,344.1 231.5,351.7 232.2,350.0 232.9,357.5 233.5,357.6 234.2,350.9 234.9,352.8 235.6,351.2 236.3,351.3 236.9,359.3 237.6,359.3 238.3,354.6 239.0,353.1 239.6,353.1 240.3,351.6 241.0,357.8 241.7,354.8 242.3,354.8 243.0,357.8 243.7,357.8 244.4,357.8 245.1,353.5 245.7,357.9 246.4,352.1 247.1,355.0 247.8,356.5 248.4,356.5 249.1,357.9 249.8,357.9 250.5,359.3 251.2,356.6 251.8,358.0 252.5,351.3 253.2,358.0 253.9,356.7 254.5,359.3 255.2,358.0 255.9,352.9 256.6,356.8 257.3,356.8 257.9,359.3 258.6,355.6 259.3,356.9 260.0,358.1 260.6,356.9 261.3,358.1 262.0,353.4 262.7,355.8 263.3,357.0 264.0,355.9 264.7,359.3 265.4,358.2 266.1,352.6 266.7,353.8 267.4,356.0 268.1,352.8 268.8,353.9 269.4,352.9 270.1,357.2 270.8,357.5 271.5,355.9 272.2,351.8 272.8,351.3 273.5,353.7 274.2,345.3 274.9,346.5 275.5,350.9 276.2,350.9 276.9,355.1 277.6,352.3 278.2,351.3 278.9,357.7 279.6,354.9 280.3,356.7 281.0,355.0 281.6,355.0 282.3,357.6 283.0,357.6 283.7,353.3 284.3,358.4 285.0,353.3 285.7,358.4 286.4,358.4 287.1,356.7 287.7,357.6 288.4,355.0 289.1,357.6 289.8,356.7 290.4,355.0 291.1,356.7 291.8,354.2 292.5,355.9 293.2,359.3 293.8,356.7 294.5,355.0 295.2,358.4 295.9,356.7 296.5,356.7 297.2,355.9 297.9,354.2 298.6,355.9 299.2,355.0 299.9,358.4 300.6,358.4 301.3,355.0 302.0,357.6 302.6,355.0 303.3,358.4 304.0,358.4 304.7,354.2 305.3,355.0 306.0,356.7 306.7,356.7 307.4,355.0 308.1,355.9 308.7,355.9 309.4,356.7 310.1,355.0 310.8,357.6 311.4,356.7 312.1,355.0 312.8,355.9 313.5,356.7 314.1,358.4 314.8,355.0 315.5,357.6 316.2,358.4 316.9,357.6 317.5,356.7 318.2,355.9 318.9,357.6 319.6,355.9 320.2,355.9 320.9,357.6 321.6,353.3 322.3,355.9 323.0,358.4 323.6,355.9 324.3,355.9 325.0,358.4 325.7,355.0 326.3,358.4 327.0,355.9 327.7,355.9 328.4,357.6 329.1,355.0 329.7,355.9 330.4,355.9 331.1,358.4 331.8,358.4 332.4,356.7 333.1,356.7 333.8,358.4 334.5,358.4 335.1,358.4 335.8,358.4 336.5,355.8 337.2,358.4 337.9,358.4 338.5,354.1 339.2,357.6 339.9,355.0 340.6,354.1 341.2,355.8 341.9,358.4 342.6,355.8 343.3,355.8 344.0,357.6 344.6,355.8 345.3,355.8 346.0,356.7 346.7,356.7 347.3,354.9 348.0,359.3 348.7,354.1 349.4,359.3 350.0,355.8 350.7,357.5 351.4,356.7 352.1,357.5" fill="none" stroke="#12f08a" stroke-width="1.15" stroke-linejoin="round"/>
<text x="278.3" y="308.5" class="el">Zn</text>
<rect x="367.9" y="4.3" width="354.60" height="111.70" class="bd"/>
<text transform="translate(540.2 10.2) scale(0.88 1)" class="t">Fe Kα1</text>
<line x1="398.1" y1="96.8" x2="712.3" y2="96.8" class="ax"/>
<line x1="398.1" y1="94.8" x2="398.1" y2="13.5" class="axd"/>
<text transform="translate(398.10 107.3) scale(0.75 1)" class="xl">0</text>
<text transform="translate(411.38 107.3) scale(0.75 1)" class="xl">4</text>
<text transform="translate(424.67 107.3) scale(0.75 1)" class="xl">8</text>
<text transform="translate(437.95 107.3) scale(0.75 1)" class="xl">12</text>
<text transform="translate(451.24 107.3) scale(0.75 1)" class="xl">16</text>
<text transform="translate(464.52 107.3) scale(0.75 1)" class="xl">20</text>
<text transform="translate(477.80 107.3) scale(0.75 1)" class="xl">24</text>
<text transform="translate(491.09 107.3) scale(0.75 1)" class="xl">28</text>
<text transform="translate(504.37 107.3) scale(0.75 1)" class="xl">32</text>
<text transform="translate(517.66 107.3) scale(0.75 1)" class="xl">36</text>
<text transform="translate(530.94 107.3) scale(0.75 1)" class="xl">40</text>
<text transform="translate(544.22 107.3) scale(0.75 1)" class="xl">44</text>
<text transform="translate(557.51 107.3) scale(0.75 1)" class="xl">48</text>
<text transform="translate(570.79 107.3) scale(0.75 1)" class="xl">52</text>
<text transform="translate(584.08 107.3) scale(0.75 1)" class="xl">56</text>
<text transform="translate(597.36 107.3) scale(0.75 1)" class="xl">60</text>
<text transform="translate(610.64 107.3) scale(0.75 1)" class="xl">64</text>
<text transform="translate(623.93 107.3) scale(0.75 1)" class="xl">68</text>
<text transform="translate(637.21 107.3) scale(0.75 1)" class="xl">72</text>
<text transform="translate(650.50 107.3) scale(0.75 1)" class="xl">76</text>
<text transform="translate(663.78 107.3) scale(0.75 1)" class="xl">80</text>
<text transform="translate(677.06 107.3) scale(0.75 1)" class="xl">84</text>
<text transform="translate(690.35 107.3) scale(0.75 1)" class="xl">88</text>
<text transform="translate(703.63 107.3) scale(0.75 1)" class="xl">92</text>
<path d="M398.10 96.8v3.4 M411.38 96.8v3.4 M424.67 96.8v3.4 M437.95 96.8v3.4 M451.24 96.8v3.4 M464.52 96.8v3.4 M477.80 96.8v3.4 M491.09 96.8v3.4 M504.37 96.8v3.4 M517.66 96.8v3.4 M530.94 96.8v3.4 M544.22 96.8v3.4 M557.51 96.8v3.4 M570.79 96.8v3.4 M584.08 96.8v3.4 M597.36 96.8v3.4 M610.64 96.8v3.4 M623.93 96.8v3.4 M637.21 96.8v3.4 M650.50 96.8v3.4 M663.78 96.8v3.4 M677.06 96.8v3.4 M690.35 96.8v3.4 M703.63 96.8v3.4" class="tk"/>
<path d="M401.42 96.8v1.6 M404.74 96.8v1.6 M408.06 96.8v1.6 M414.71 96.8v1.6 M418.03 96.8v1.6 M421.35 96.8v1.6 M427.99 96.8v1.6 M431.31 96.8v1.6 M434.63 96.8v1.6 M441.27 96.8v1.6 M444.59 96.8v1.6 M447.92 96.8v1.6 M454.56 96.8v1.6 M457.88 96.8v1.6 M461.20 96.8v1.6 M467.84 96.8v1.6 M471.16 96.8v1.6 M474.48 96.8v1.6 M481.12 96.8v1.6 M484.45 96.8v1.6 M487.77 96.8v1.6 M494.41 96.8v1.6 M497.73 96.8v1.6 M501.05 96.8v1.6 M507.69 96.8v1.6 M511.01 96.8v1.6 M514.34 96.8v1.6 M520.98 96.8v1.6 M524.30 96.8v1.6 M527.62 96.8v1.6 M534.26 96.8v1.6 M537.58 96.8v1.6 M540.90 96.8v1.6 M547.55 96.8v1.6 M550.87 96.8v1.6 M554.19 96.8v1.6 M560.83 96.8v1.6 M564.15 96.8v1.6 M567.47 96.8v1.6 M574.11 96.8v1.6 M577.43 96.8v1.6 M580.75 96.8v1.6 M587.40 96.8v1.6 M590.72 96.8v1.6 M594.04 96.8v1.6 M600.68 96.8v1.6 M604.00 96.8v1.6 M607.32 96.8v1.6 M613.97 96.8v1.6 M617.29 96.8v1.6 M620.61 96.8v1.6 M627.25 96.8v1.6 M630.57 96.8v1.6 M633.89 96.8v1.6 M640.53 96.8v1.6 M643.85 96.8v1.6 M647.18 96.8v1.6 M653.82 96.8v1.6 M657.14 96.8v1.6 M660.46 96.8v1.6 M667.10 96.8v1.6 M670.42 96.8v1.6 M673.74 96.8v1.6 M680.38 96.8v1.6 M683.71 96.8v1.6 M687.03 96.8v1.6 M693.67 96.8v1.6 M696.99 96.8v1.6 M700.31 96.8v1.6 M706.95 96.8v1.6 M710.27 96.8v1.6" class="mtk"/>
<text transform="translate(393.80 99.1) scale(0.76 1)" class="yl">0</text>
<text transform="translate(393.80 76.9) scale(0.76 1)" class="yl">200</text>
<text transform="translate(393.80 54.7) scale(0.76 1)" class="yl">400</text>
<text transform="translate(393.80 32.5) scale(0.76 1)" class="yl">600</text>
<path d="M395.10 96.80h3.0 M395.10 74.60h3.0 M395.10 52.40h3.0 M395.10 30.20h3.0" class="tk"/>
<path d="M396.90 94.58h1.2 M396.90 92.36h1.2 M396.90 90.14h1.2 M396.90 87.92h1.2 M396.90 85.70h1.2 M396.90 83.48h1.2 M396.90 81.26h1.2 M396.90 79.04h1.2 M396.90 76.82h1.2 M396.90 72.38h1.2 M396.90 70.16h1.2 M396.90 67.94h1.2 M396.90 65.72h1.2 M396.90 63.50h1.2 M396.90 61.28h1.2 M396.90 59.06h1.2 M396.90 56.84h1.2 M396.90 54.62h1.2 M396.90 50.18h1.2 M396.90 47.96h1.2 M396.90 45.74h1.2 M396.90 43.52h1.2 M396.90 41.30h1.2 M396.90 39.08h1.2 M396.90 36.86h1.2 M396.90 34.64h1.2 M396.90 32.42h1.2 M396.90 27.98h1.2 M396.90 25.76h1.2 M396.90 23.54h1.2 M396.90 21.32h1.2 M396.90 19.10h1.2 M396.90 16.88h1.2 M396.90 14.66h1.2" class="mtk"/>
<text transform="translate(708.5 114.5) scale(0.85 1)" class="u">μm</text>
<polyline points="398.1,96.8 398.8,96.8 399.4,96.8 400.1,96.8 400.8,96.8 401.4,94.8 402.1,96.8 402.8,96.8 403.5,96.8 404.1,95.8 404.8,96.8 405.5,96.8 406.1,94.8 406.8,95.8 407.5,95.8 408.1,96.8 408.8,96.8 409.5,96.8 410.2,96.8 410.8,96.8 411.5,95.8 412.2,96.8 412.8,96.8 413.5,96.8 414.2,95.8 414.8,96.8 415.5,96.8 416.2,96.8 416.9,95.8 417.5,95.8 418.2,95.8 418.9,96.8 419.5,95.8 420.2,96.8 420.9,93.8 421.5,96.8 422.2,95.8 422.9,96.8 423.6,95.8 424.2,95.8 424.9,96.8 425.6,95.8 426.2,96.8 426.9,95.8 427.6,96.8 428.2,96.8 428.9,96.8 429.6,96.8 430.3,96.8 430.9,96.8 431.6,96.8 432.3,95.8 432.9,95.8 433.6,96.8 434.3,95.8 434.9,96.8 435.6,95.8 436.3,96.8 437.0,94.8 437.6,96.8 438.3,96.8 439.0,95.8 439.6,96.8 440.3,96.8 441.0,95.8 441.6,96.8 442.3,96.8 443.0,96.8 443.7,95.8 444.3,94.7 445.0,94.7 445.7,96.8 446.3,96.8 447.0,96.8 447.7,96.8 448.3,96.8 449.0,93.7 449.7,95.8 450.3,96.8 451.0,95.8 451.7,94.7 452.4,95.8 453.0,95.8 453.7,95.8 454.4,96.8 455.0,96.8 455.7,96.8 456.4,96.8 457.0,96.8 457.7,94.7 458.4,96.8 459.1,96.8 459.7,95.8 460.4,95.8 461.1,95.8 461.7,96.8 462.4,96.8 463.1,94.7 463.7,96.8 464.4,96.8 465.1,96.8 465.8,96.8 466.4,95.8 467.1,96.8 467.8,96.8 468.4,95.8 469.1,96.8 469.8,96.8 470.4,94.7 471.1,96.8 471.8,96.8 472.5,96.8 473.1,96.8 473.8,95.8 474.5,94.7 475.1,96.8 475.8,95.8 476.5,96.8 477.1,96.8 477.8,96.8 478.5,96.8 479.2,96.8 479.8,95.7 480.5,96.8 481.2,96.8 481.8,96.8 482.5,96.8 483.2,95.7 483.8,95.7 484.5,96.8 485.2,96.8 485.9,95.7 486.5,96.8 487.2,95.7 487.9,93.6 488.5,94.7 489.2,95.7 489.9,96.8 490.5,95.7 491.2,93.6 491.9,96.8 492.6,96.8 493.2,95.7 493.9,95.7 494.6,95.7 495.2,96.8 495.9,94.7 496.6,95.7 497.2,96.8 497.9,94.7 498.6,94.7 499.2,96.8 499.9,96.8 500.6,96.8 501.3,93.6 501.9,96.8 502.6,96.8 503.3,96.8 503.9,96.8 504.6,95.7 505.3,96.8 505.9,96.8 506.6,95.7 507.3,96.8 508.0,96.8 508.6,95.7 509.3,96.8 510.0,95.7 510.6,96.8 511.3,96.8 512.0,96.8 512.6,96.8 513.3,94.6 514.0,96.8 514.7,96.8 515.3,96.8 516.0,96.8 516.7,95.7 517.3,93.6 518.0,94.6 518.7,96.8 519.3,96.8 520.0,96.8 520.7,95.7 521.4,96.8 522.0,96.8 522.7,95.7 523.4,95.7 524.0,95.7 524.7,95.7 525.4,96.8 526.0,96.8 526.7,96.8 527.4,96.8 528.1,96.8 528.7,96.8 529.4,96.8 530.1,96.8 530.7,95.7 531.4,95.7 532.1,93.5 532.7,96.8 533.4,96.8 534.1,95.7 534.8,95.7 535.4,96.8 536.1,96.8 536.8,96.8 537.4,94.6 538.1,94.6 538.8,95.7 539.4,96.8 540.1,96.8 540.8,95.7 541.5,96.8 542.1,96.8 542.8,94.6 543.5,95.7 544.1,96.8 544.8,96.8 545.5,95.7 546.1,94.6 546.8,95.7 547.5,96.8 548.1,95.7 548.8,93.5 549.5,95.7 550.2,96.8 550.8,95.7 551.5,95.7 552.2,96.8 552.8,94.6 553.5,95.7 554.2,96.8 554.8,95.7 555.5,95.7 556.2,95.7 556.9,92.4 557.5,93.5 558.2,93.5 558.9,94.6 559.5,95.7 560.2,94.6 560.9,95.7 561.5,96.8 562.2,96.8 562.9,96.8 563.6,96.8 564.2,95.7 564.9,93.8 565.6,95.9 566.2,95.0 566.9,96.0 567.6,94.3 568.2,96.8 568.9,94.0 569.6,94.9 570.3,93.6 570.9,92.1 571.6,90.7 572.3,88.4 572.9,91.7 573.6,89.6 574.3,86.1 574.9,81.5 575.6,78.6 576.3,82.0 577.0,76.1 577.6,73.2 578.3,61.5 579.0,56.3 579.6,62.6 580.3,54.4 581.0,53.2 581.6,28.0 582.3,45.2 583.0,60.8 583.7,37.7 584.3,38.3 585.0,48.7 585.7,54.2 586.3,44.2 587.0,57.4 587.7,37.2 588.3,31.0 589.0,51.4 589.7,44.6 590.4,42.1 591.0,46.5 591.7,63.3 592.4,33.3 593.0,59.3 593.7,37.4 594.4,55.2 595.0,55.2 595.7,39.3 596.4,47.3 597.0,38.3 597.7,42.7 598.4,44.4 599.1,28.1 599.7,41.7 600.4,44.1 601.1,36.6 601.7,45.7 602.4,39.6 603.1,34.5 603.7,45.4 604.4,47.7 605.1,23.0 605.8,42.2 606.4,43.4 607.1,42.8 607.8,55.4 608.4,41.1 609.1,30.2 609.8,52.6 610.4,42.0 611.1,47.1 611.8,41.9 612.5,48.9 613.1,50.1 613.8,49.5 614.5,49.9 615.1,37.3 615.8,36.5 616.5,46.2 617.1,50.0 617.8,34.5 618.5,32.9 619.2,42.4 619.8,43.1 620.5,44.6 621.2,40.3 621.8,36.1 622.5,33.8 623.2,45.6 623.8,46.5 624.5,44.3 625.2,44.8 625.9,35.0 626.5,45.2 627.2,47.5 627.9,46.3 628.5,29.8 629.2,29.6 629.9,39.4 630.5,45.7 631.2,39.4 631.9,56.0 632.6,47.6 633.2,36.7 633.9,50.6 634.6,33.8 635.2,61.3 635.9,30.7 636.6,40.0 637.2,34.3 637.9,31.3 638.6,40.2 639.3,38.8 639.9,38.8 640.6,38.7 641.3,30.1 641.9,52.9 642.6,30.2 643.3,30.5 643.9,48.4 644.6,40.9 645.3,52.9 645.9,57.5 646.6,49.4 647.3,43.8 648.0,41.3 648.6,56.7 649.3,43.1 650.0,39.3 650.6,47.5 651.3,39.6 652.0,46.1 652.6,39.7 653.3,40.0 654.0,13.4 654.7,40.5 655.3,37.8 656.0,46.0 656.7,54.0 657.3,35.2 658.0,53.9 658.7,39.6 659.3,37.3 660.0,43.2 660.7,45.4 661.4,53.4 662.0,49.9 662.7,45.2 663.4,49.3 664.0,54.7 664.7,48.2 665.4,50.8 666.0,30.4 666.7,48.2 667.4,37.0 668.1,38.3 668.7,36.5 669.4,51.3 670.1,34.9 670.7,43.9 671.4,58.7 672.1,33.8 672.7,35.8 673.4,33.7 674.1,42.5 674.8,32.8 675.4,30.3 676.1,33.9 676.8,38.7 677.4,35.3 678.1,32.5 678.8,45.3 679.4,52.9 680.1,27.4 680.8,42.1 681.5,42.2 682.1,44.5 682.8,49.1 683.5,53.8 684.1,43.2 684.8,47.3 685.5,49.0 686.1,53.0 686.8,52.2 687.5,46.7 688.2,48.6 688.8,42.7 689.5,50.9 690.2,46.8 690.8,44.2 691.5,53.9 692.2,49.1 692.8,50.2 693.5,49.8 694.2,37.9 694.9,36.2 695.5,32.7 696.2,44.7 696.9,34.6 697.5,33.8 698.2,35.6 698.9,42.9 699.5,49.7 700.2,38.2 700.9,34.0 701.5,39.7 702.2,40.6 702.9,42.8 703.6,41.7 704.2,40.3 704.9,34.1 705.6,35.7 706.2,47.7 706.9,46.1 707.6,46.9 708.2,49.4 708.9,46.0 709.6,49.8 710.3,37.6 710.9,56.6 711.6,34.4 712.3,41.5" fill="none" stroke="#12f012" stroke-width="1.15" stroke-linejoin="round"/>
<text x="479.3" y="53.5" class="el">Fe</text>
<rect x="367.9" y="135.5" width="354.60" height="111.90" class="bd"/>
<text transform="translate(540.2 141.4) scale(0.88 1)" class="t">P Kα1</text>
<line x1="398.1" y1="228.4" x2="712.3" y2="228.4" class="ax"/>
<line x1="398.1" y1="226.4" x2="398.1" y2="144.7" class="axd"/>
<text transform="translate(398.10 238.9) scale(0.75 1)" class="xl">0</text>
<text transform="translate(411.38 238.9) scale(0.75 1)" class="xl">4</text>
<text transform="translate(424.67 238.9) scale(0.75 1)" class="xl">8</text>
<text transform="translate(437.95 238.9) scale(0.75 1)" class="xl">12</text>
<text transform="translate(451.24 238.9) scale(0.75 1)" class="xl">16</text>
<text transform="translate(464.52 238.9) scale(0.75 1)" class="xl">20</text>
<text transform="translate(477.80 238.9) scale(0.75 1)" class="xl">24</text>
<text transform="translate(491.09 238.9) scale(0.75 1)" class="xl">28</text>
<text transform="translate(504.37 238.9) scale(0.75 1)" class="xl">32</text>
<text transform="translate(517.66 238.9) scale(0.75 1)" class="xl">36</text>
<text transform="translate(530.94 238.9) scale(0.75 1)" class="xl">40</text>
<text transform="translate(544.22 238.9) scale(0.75 1)" class="xl">44</text>
<text transform="translate(557.51 238.9) scale(0.75 1)" class="xl">48</text>
<text transform="translate(570.79 238.9) scale(0.75 1)" class="xl">52</text>
<text transform="translate(584.08 238.9) scale(0.75 1)" class="xl">56</text>
<text transform="translate(597.36 238.9) scale(0.75 1)" class="xl">60</text>
<text transform="translate(610.64 238.9) scale(0.75 1)" class="xl">64</text>
<text transform="translate(623.93 238.9) scale(0.75 1)" class="xl">68</text>
<text transform="translate(637.21 238.9) scale(0.75 1)" class="xl">72</text>
<text transform="translate(650.50 238.9) scale(0.75 1)" class="xl">76</text>
<text transform="translate(663.78 238.9) scale(0.75 1)" class="xl">80</text>
<text transform="translate(677.06 238.9) scale(0.75 1)" class="xl">84</text>
<text transform="translate(690.35 238.9) scale(0.75 1)" class="xl">88</text>
<text transform="translate(703.63 238.9) scale(0.75 1)" class="xl">92</text>
<path d="M398.10 228.4v3.4 M411.38 228.4v3.4 M424.67 228.4v3.4 M437.95 228.4v3.4 M451.24 228.4v3.4 M464.52 228.4v3.4 M477.80 228.4v3.4 M491.09 228.4v3.4 M504.37 228.4v3.4 M517.66 228.4v3.4 M530.94 228.4v3.4 M544.22 228.4v3.4 M557.51 228.4v3.4 M570.79 228.4v3.4 M584.08 228.4v3.4 M597.36 228.4v3.4 M610.64 228.4v3.4 M623.93 228.4v3.4 M637.21 228.4v3.4 M650.50 228.4v3.4 M663.78 228.4v3.4 M677.06 228.4v3.4 M690.35 228.4v3.4 M703.63 228.4v3.4" class="tk"/>
<path d="M401.42 228.4v1.6 M404.74 228.4v1.6 M408.06 228.4v1.6 M414.71 228.4v1.6 M418.03 228.4v1.6 M421.35 228.4v1.6 M427.99 228.4v1.6 M431.31 228.4v1.6 M434.63 228.4v1.6 M441.27 228.4v1.6 M444.59 228.4v1.6 M447.92 228.4v1.6 M454.56 228.4v1.6 M457.88 228.4v1.6 M461.20 228.4v1.6 M467.84 228.4v1.6 M471.16 228.4v1.6 M474.48 228.4v1.6 M481.12 228.4v1.6 M484.45 228.4v1.6 M487.77 228.4v1.6 M494.41 228.4v1.6 M497.73 228.4v1.6 M501.05 228.4v1.6 M507.69 228.4v1.6 M511.01 228.4v1.6 M514.34 228.4v1.6 M520.98 228.4v1.6 M524.30 228.4v1.6 M527.62 228.4v1.6 M534.26 228.4v1.6 M537.58 228.4v1.6 M540.90 228.4v1.6 M547.55 228.4v1.6 M550.87 228.4v1.6 M554.19 228.4v1.6 M560.83 228.4v1.6 M564.15 228.4v1.6 M567.47 228.4v1.6 M574.11 228.4v1.6 M577.43 228.4v1.6 M580.75 228.4v1.6 M587.40 228.4v1.6 M590.72 228.4v1.6 M594.04 228.4v1.6 M600.68 228.4v1.6 M604.00 228.4v1.6 M607.32 228.4v1.6 M613.97 228.4v1.6 M617.29 228.4v1.6 M620.61 228.4v1.6 M627.25 228.4v1.6 M630.57 228.4v1.6 M633.89 228.4v1.6 M640.53 228.4v1.6 M643.85 228.4v1.6 M647.18 228.4v1.6 M653.82 228.4v1.6 M657.14 228.4v1.6 M660.46 228.4v1.6 M667.10 228.4v1.6 M670.42 228.4v1.6 M673.74 228.4v1.6 M680.38 228.4v1.6 M683.71 228.4v1.6 M687.03 228.4v1.6 M693.67 228.4v1.6 M696.99 228.4v1.6 M700.31 228.4v1.6 M706.95 228.4v1.6 M710.27 228.4v1.6" class="mtk"/>
<text transform="translate(393.80 230.7) scale(0.76 1)" class="yl">0</text>
<text transform="translate(393.80 214.6) scale(0.76 1)" class="yl">50</text>
<text transform="translate(393.80 198.5) scale(0.76 1)" class="yl">100</text>
<text transform="translate(393.80 182.4) scale(0.76 1)" class="yl">150</text>
<text transform="translate(393.80 166.3) scale(0.76 1)" class="yl">200</text>
<text transform="translate(393.80 150.2) scale(0.76 1)" class="yl">250</text>
<path d="M395.10 228.40h3.0 M395.10 212.30h3.0 M395.10 196.20h3.0 M395.10 180.10h3.0 M395.10 164.00h3.0 M395.10 147.90h3.0" class="tk"/>
<path d="M396.90 225.18h1.2 M396.90 221.96h1.2 M396.90 218.74h1.2 M396.90 215.52h1.2 M396.90 209.08h1.2 M396.90 205.86h1.2 M396.90 202.64h1.2 M396.90 199.42h1.2 M396.90 192.98h1.2 M396.90 189.76h1.2 M396.90 186.54h1.2 M396.90 183.32h1.2 M396.90 176.88h1.2 M396.90 173.66h1.2 M396.90 170.44h1.2 M396.90 167.22h1.2 M396.90 160.78h1.2 M396.90 157.56h1.2 M396.90 154.34h1.2 M396.90 151.12h1.2 M396.90 144.68h1.2" class="mtk"/>
<text transform="translate(708.5 245.9) scale(0.85 1)" class="u">μm</text>
<polyline points="398.1,225.5 398.8,224.6 399.4,225.0 400.1,221.8 400.8,211.7 401.4,226.5 402.1,214.2 402.8,212.6 403.5,220.5 404.1,222.1 404.8,216.5 405.5,212.9 406.1,208.3 406.8,214.4 407.5,202.6 408.1,220.9 408.8,223.0 409.5,227.1 410.2,224.3 410.8,220.5 411.5,217.8 412.2,225.1 412.8,214.8 413.5,219.2 414.2,221.9 414.8,222.5 415.5,208.9 416.2,217.9 416.9,223.1 417.5,223.4 418.2,209.8 418.9,221.6 419.5,212.9 420.2,211.8 420.9,228.4 421.5,212.1 422.2,219.8 422.9,224.0 423.6,221.4 424.2,216.0 424.9,216.9 425.6,216.7 426.2,222.3 426.9,212.5 427.6,211.4 428.2,209.8 428.9,213.8 429.6,209.5 430.3,208.5 430.9,215.3 431.6,214.4 432.3,215.9 432.9,216.0 433.6,214.5 434.3,227.1 434.9,220.3 435.6,216.3 436.3,228.4 437.0,225.8 437.6,211.0 438.3,223.9 439.0,221.0 439.6,216.9 440.3,221.1 441.0,223.0 441.6,221.3 442.3,220.8 443.0,221.6 443.7,217.8 444.3,210.8 445.0,217.0 445.7,210.7 446.3,215.1 447.0,214.6 447.7,215.8 448.3,220.2 449.0,216.7 449.7,217.2 450.3,224.2 451.0,215.0 451.7,215.9 452.4,216.9 453.0,221.5 453.7,228.4 454.4,211.5 455.0,219.1 455.7,228.4 456.4,215.5 457.0,222.2 457.7,215.3 458.4,219.2 459.1,213.1 459.7,217.6 460.4,217.4 461.1,218.0 461.7,212.6 462.4,225.2 463.1,212.9 463.7,215.3 464.4,221.5 465.1,218.8 465.8,221.0 466.4,218.4 467.1,214.1 467.8,222.1 468.4,215.0 469.1,214.1 469.8,215.6 470.4,211.0 471.1,219.1 471.8,215.3 472.5,206.4 473.1,218.6 473.8,219.4 474.5,218.7 475.1,215.8 475.8,221.8 476.5,220.0 477.1,227.5 477.8,224.0 478.5,223.8 479.2,224.5 479.8,221.0 480.5,215.3 481.2,220.7 481.8,225.4 482.5,217.5 483.2,217.9 483.8,225.8 484.5,218.0 485.2,224.1 485.9,221.9 486.5,222.4 487.2,214.6 487.9,222.9 488.5,220.4 489.2,217.8 489.9,213.6 490.5,212.8 491.2,223.9 491.9,212.8 492.6,217.2 493.2,212.7 493.9,213.4 494.6,221.4 495.2,218.5 495.9,220.2 496.6,216.9 497.2,210.4 497.9,218.5 498.6,222.1 499.2,205.9 499.9,223.7 500.6,218.6 501.3,218.7 501.9,225.0 502.6,214.6 503.3,213.2 503.9,219.0 504.6,218.2 505.3,219.3 505.9,227.4 506.6,217.2 507.3,224.7 508.0,223.3 508.6,216.4 509.3,213.7 510.0,222.8 510.6,212.6 511.3,196.2 512.0,217.4 512.6,218.7 513.3,217.2 514.0,220.3 514.7,222.6 515.3,214.9 516.0,214.5 516.7,220.7 517.3,220.2 518.0,221.3 518.7,221.6 519.3,223.0 520.0,225.7 520.7,213.4 521.4,219.8 522.0,217.6 522.7,208.9 523.4,220.4 524.0,215.0 524.7,224.8 525.4,221.1 526.0,214.4 526.7,219.2 527.4,225.1 528.1,225.6 528.7,216.1 529.4,222.5 530.1,214.3 530.7,216.4 531.4,219.4 532.1,218.1 532.7,213.9 533.4,217.5 534.1,222.5 534.8,216.0 535.4,219.4 536.1,218.8 536.8,214.7 537.4,215.9 538.1,212.4 538.8,218.5 539.4,219.8 540.1,219.2 540.8,215.6 541.5,221.5 542.1,219.3 542.8,221.7 543.5,221.3 544.1,218.3 544.8,205.1 545.5,219.3 546.1,196.2 546.8,216.8 547.5,218.1 548.1,217.1 548.8,207.3 549.5,218.5 550.2,209.1 550.8,213.9 551.5,221.5 552.2,220.3 552.8,219.2 553.5,222.4 554.2,210.6 554.8,214.3 555.5,213.6 556.2,221.8 556.9,213.6 557.5,219.0 558.2,202.6 558.9,216.3 559.5,214.2 560.2,213.3 560.9,218.2 561.5,217.2 562.2,216.7 562.9,210.6 563.6,217.0 564.2,212.0 564.9,206.1 565.6,200.6 566.2,195.1 566.9,196.0 567.6,194.5 568.2,198.1 568.9,179.9 569.6,171.8 570.3,162.3 570.9,161.2 571.6,152.8 572.3,151.1 572.9,145.3 573.6,160.0 574.3,159.8 574.9,177.3 575.6,183.7 576.3,181.6 577.0,188.8 577.6,198.3 578.3,195.0 579.0,208.3 579.6,206.8 580.3,213.2 581.0,203.7 581.6,210.5 582.3,198.1 583.0,209.9 583.7,210.4 584.3,227.8 585.0,222.1 585.7,217.3 586.3,207.6 587.0,221.0 587.7,228.4 588.3,207.9 589.0,207.4 589.7,219.9 590.4,210.5 591.0,205.8 591.7,205.4 592.4,224.2 593.0,212.9 593.7,218.6 594.4,206.6 595.0,212.5 595.7,221.4 596.4,212.3 597.0,208.9 597.7,223.7 598.4,222.3 599.1,217.7 599.7,215.1 600.4,216.9 601.1,225.7 601.7,223.9 602.4,213.3 603.1,210.2 603.7,219.2 604.4,211.9 605.1,200.0 605.8,214.4 606.4,216.0 607.1,217.8 607.8,209.6 608.4,211.2 609.1,211.0 609.8,215.3 610.4,209.9 611.1,209.8 611.8,213.6 612.5,204.6 613.1,223.3 613.8,207.6 614.5,213.4 615.1,206.6 615.8,199.3 616.5,212.0 617.1,189.8 617.8,212.5 618.5,202.7 619.2,201.6 619.8,211.1 620.5,207.7 621.2,199.7 621.8,208.4 622.5,222.5 623.2,217.7 623.8,215.4 624.5,209.3 625.2,215.9 625.9,202.3 626.5,215.2 627.2,201.0 627.9,216.4 628.5,202.5 629.2,210.5 629.9,201.9 630.5,198.1 631.2,199.5 631.9,204.4 632.6,216.8 633.2,217.3 633.9,228.4 634.6,201.3 635.2,202.7 635.9,204.3 636.6,219.4 637.2,192.1 637.9,216.1 638.6,205.3 639.3,222.7 639.9,215.6 640.6,202.7 641.3,204.1 641.9,218.8 642.6,211.8 643.3,203.4 643.9,224.1 644.6,205.8 645.3,222.1 645.9,206.8 646.6,213.0 647.3,204.3 648.0,214.9 648.6,213.8 649.3,213.8 650.0,218.1 650.6,213.4 651.3,218.6 652.0,215.4 652.6,206.7 653.3,213.7 654.0,203.9 654.7,206.5 655.3,205.6 656.0,219.5 656.7,208.5 657.3,201.3 658.0,205.0 658.7,202.8 659.3,200.7 660.0,222.0 660.7,207.4 661.4,207.5 662.0,212.7 662.7,220.6 663.4,210.3 664.0,193.0 664.7,197.6 665.4,202.1 666.0,214.2 666.7,218.7 667.4,217.3 668.1,211.6 668.7,216.4 669.4,197.3 670.1,219.6 670.7,211.8 671.4,210.2 672.1,208.3 672.7,217.7 673.4,212.7 674.1,209.8 674.8,208.8 675.4,215.2 676.1,213.2 676.8,209.5 677.4,197.6 678.1,219.5 678.8,206.1 679.4,199.8 680.1,193.6 680.8,200.7 681.5,200.9 682.1,210.3 682.8,204.0 683.5,200.3 684.1,211.7 684.8,209.0 685.5,218.1 686.1,215.4 686.8,210.1 687.5,211.1 688.2,199.1 688.8,212.0 689.5,218.9 690.2,204.2 690.8,203.9 691.5,207.6 692.2,211.3 692.8,215.9 693.5,214.9 694.2,199.6 694.9,204.8 695.5,209.6 696.2,207.3 696.9,212.7 697.5,216.8 698.2,213.6 698.9,210.6 699.5,221.8 700.2,220.4 700.9,222.5 701.5,213.5 702.2,206.1 702.9,219.8 703.6,218.5 704.2,221.8 704.9,213.8 705.6,219.0 706.2,217.7 706.9,218.4 707.6,194.9 708.2,211.3 708.9,215.3 709.6,213.9 710.3,204.6 710.9,203.8 711.6,208.8 712.3,224.5" fill="none" stroke="#ff12ff" stroke-width="1.15" stroke-linejoin="round"/>
<text x="479.3" y="170.9" class="el">P</text>
<rect x="367.9" y="266.9" width="354.60" height="111.70" class="bd"/>
<text transform="translate(540.2 272.8) scale(0.88 1)" class="t">Zn Lα1,2</text>
<line x1="398.1" y1="359.3" x2="712.3" y2="359.3" class="ax"/>
<line x1="398.1" y1="357.3" x2="398.1" y2="275.6" class="axd"/>
<text transform="translate(398.10 369.8) scale(0.75 1)" class="xl">0</text>
<text transform="translate(411.38 369.8) scale(0.75 1)" class="xl">4</text>
<text transform="translate(424.67 369.8) scale(0.75 1)" class="xl">8</text>
<text transform="translate(437.95 369.8) scale(0.75 1)" class="xl">12</text>
<text transform="translate(451.24 369.8) scale(0.75 1)" class="xl">16</text>
<text transform="translate(464.52 369.8) scale(0.75 1)" class="xl">20</text>
<text transform="translate(477.80 369.8) scale(0.75 1)" class="xl">24</text>
<text transform="translate(491.09 369.8) scale(0.75 1)" class="xl">28</text>
<text transform="translate(504.37 369.8) scale(0.75 1)" class="xl">32</text>
<text transform="translate(517.66 369.8) scale(0.75 1)" class="xl">36</text>
<text transform="translate(530.94 369.8) scale(0.75 1)" class="xl">40</text>
<text transform="translate(544.22 369.8) scale(0.75 1)" class="xl">44</text>
<text transform="translate(557.51 369.8) scale(0.75 1)" class="xl">48</text>
<text transform="translate(570.79 369.8) scale(0.75 1)" class="xl">52</text>
<text transform="translate(584.08 369.8) scale(0.75 1)" class="xl">56</text>
<text transform="translate(597.36 369.8) scale(0.75 1)" class="xl">60</text>
<text transform="translate(610.64 369.8) scale(0.75 1)" class="xl">64</text>
<text transform="translate(623.93 369.8) scale(0.75 1)" class="xl">68</text>
<text transform="translate(637.21 369.8) scale(0.75 1)" class="xl">72</text>
<text transform="translate(650.50 369.8) scale(0.75 1)" class="xl">76</text>
<text transform="translate(663.78 369.8) scale(0.75 1)" class="xl">80</text>
<text transform="translate(677.06 369.8) scale(0.75 1)" class="xl">84</text>
<text transform="translate(690.35 369.8) scale(0.75 1)" class="xl">88</text>
<text transform="translate(703.63 369.8) scale(0.75 1)" class="xl">92</text>
<path d="M398.10 359.3v3.4 M411.38 359.3v3.4 M424.67 359.3v3.4 M437.95 359.3v3.4 M451.24 359.3v3.4 M464.52 359.3v3.4 M477.80 359.3v3.4 M491.09 359.3v3.4 M504.37 359.3v3.4 M517.66 359.3v3.4 M530.94 359.3v3.4 M544.22 359.3v3.4 M557.51 359.3v3.4 M570.79 359.3v3.4 M584.08 359.3v3.4 M597.36 359.3v3.4 M610.64 359.3v3.4 M623.93 359.3v3.4 M637.21 359.3v3.4 M650.50 359.3v3.4 M663.78 359.3v3.4 M677.06 359.3v3.4 M690.35 359.3v3.4 M703.63 359.3v3.4" class="tk"/>
<path d="M401.42 359.3v1.6 M404.74 359.3v1.6 M408.06 359.3v1.6 M414.71 359.3v1.6 M418.03 359.3v1.6 M421.35 359.3v1.6 M427.99 359.3v1.6 M431.31 359.3v1.6 M434.63 359.3v1.6 M441.27 359.3v1.6 M444.59 359.3v1.6 M447.92 359.3v1.6 M454.56 359.3v1.6 M457.88 359.3v1.6 M461.20 359.3v1.6 M467.84 359.3v1.6 M471.16 359.3v1.6 M474.48 359.3v1.6 M481.12 359.3v1.6 M484.45 359.3v1.6 M487.77 359.3v1.6 M494.41 359.3v1.6 M497.73 359.3v1.6 M501.05 359.3v1.6 M507.69 359.3v1.6 M511.01 359.3v1.6 M514.34 359.3v1.6 M520.98 359.3v1.6 M524.30 359.3v1.6 M527.62 359.3v1.6 M534.26 359.3v1.6 M537.58 359.3v1.6 M540.90 359.3v1.6 M547.55 359.3v1.6 M550.87 359.3v1.6 M554.19 359.3v1.6 M560.83 359.3v1.6 M564.15 359.3v1.6 M567.47 359.3v1.6 M574.11 359.3v1.6 M577.43 359.3v1.6 M580.75 359.3v1.6 M587.40 359.3v1.6 M590.72 359.3v1.6 M594.04 359.3v1.6 M600.68 359.3v1.6 M604.00 359.3v1.6 M607.32 359.3v1.6 M613.97 359.3v1.6 M617.29 359.3v1.6 M620.61 359.3v1.6 M627.25 359.3v1.6 M630.57 359.3v1.6 M633.89 359.3v1.6 M640.53 359.3v1.6 M643.85 359.3v1.6 M647.18 359.3v1.6 M653.82 359.3v1.6 M657.14 359.3v1.6 M660.46 359.3v1.6 M667.10 359.3v1.6 M670.42 359.3v1.6 M673.74 359.3v1.6 M680.38 359.3v1.6 M683.71 359.3v1.6 M687.03 359.3v1.6 M693.67 359.3v1.6 M696.99 359.3v1.6 M700.31 359.3v1.6 M706.95 359.3v1.6 M710.27 359.3v1.6" class="mtk"/>
<text transform="translate(393.80 361.6) scale(0.76 1)" class="yl">0</text>
<text transform="translate(393.80 346.5) scale(0.76 1)" class="yl">30</text>
<text transform="translate(393.80 331.4) scale(0.76 1)" class="yl">60</text>
<text transform="translate(393.80 316.2) scale(0.76 1)" class="yl">90</text>
<text transform="translate(393.80 301.1) scale(0.76 1)" class="yl">120</text>
<text transform="translate(393.80 286.0) scale(0.76 1)" class="yl">150</text>
<path d="M395.10 359.30h3.0 M395.10 344.18h3.0 M395.10 329.06h3.0 M395.10 313.94h3.0 M395.10 298.82h3.0 M395.10 283.70h3.0" class="tk"/>
<path d="M396.90 356.28h1.2 M396.90 353.25h1.2 M396.90 350.23h1.2 M396.90 347.20h1.2 M396.90 341.16h1.2 M396.90 338.13h1.2 M396.90 335.11h1.2 M396.90 332.08h1.2 M396.90 326.04h1.2 M396.90 323.01h1.2 M396.90 319.99h1.2 M396.90 316.96h1.2 M396.90 310.92h1.2 M396.90 307.89h1.2 M396.90 304.87h1.2 M396.90 301.84h1.2 M396.90 295.80h1.2 M396.90 292.77h1.2 M396.90 289.75h1.2 M396.90 286.72h1.2 M396.90 280.68h1.2 M396.90 277.65h1.2" class="mtk"/>
<text transform="translate(708.5 377.1) scale(0.85 1)" class="u">μm</text>
<polyline points="398.1,354.8 398.8,359.3 399.4,350.2 400.1,359.3 400.8,354.8 401.4,354.8 402.1,345.7 402.8,354.8 403.5,354.8 404.1,354.7 404.8,350.2 405.5,350.2 406.1,354.7 406.8,359.3 407.5,350.2 408.1,354.7 408.8,354.7 409.5,359.3 410.2,354.7 410.8,342.7 411.5,359.3 412.2,350.2 412.8,359.3 413.5,354.7 414.2,354.7 414.8,359.3 415.5,359.3 416.2,359.3 416.9,354.7 417.5,354.7 418.2,350.1 418.9,345.5 419.5,359.3 420.2,350.1 420.9,354.7 421.5,354.7 422.2,354.7 422.9,359.3 423.6,359.3 424.2,359.3 424.9,359.3 425.6,359.3 426.2,354.7 426.9,359.3 427.6,354.7 428.2,350.1 428.9,359.3 429.6,345.5 430.3,354.7 430.9,359.3 431.6,359.3 432.3,359.3 432.9,354.7 433.6,359.3 434.3,345.4 434.9,359.3 435.6,354.7 436.3,359.3 437.0,350.0 437.6,345.4 438.3,359.3 439.0,345.4 439.6,359.3 440.3,354.7 441.0,359.3 441.6,359.3 442.3,354.7 443.0,354.7 443.7,350.0 444.3,359.3 445.0,359.3 445.7,350.0 446.3,354.6 447.0,354.6 447.7,354.6 448.3,354.6 449.0,354.6 449.7,359.3 450.3,359.3 451.0,359.3 451.7,354.6 452.4,359.3 453.0,349.9 453.7,349.9 454.4,354.6 455.0,359.3 455.7,349.9 456.4,359.3 457.0,354.6 457.7,354.6 458.4,345.2 459.1,354.6 459.7,354.6 460.4,354.6 461.1,359.3 461.7,359.3 462.4,359.3 463.1,359.3 463.7,359.3 464.4,354.6 465.1,354.6 465.8,359.3 466.4,354.6 467.1,354.6 467.8,349.9 468.4,359.3 469.1,354.6 469.8,354.6 470.4,349.9 471.1,359.3 471.8,359.3 472.5,354.6 473.1,354.6 473.8,345.1 474.5,359.3 475.1,359.3 475.8,359.3 476.5,359.3 477.1,359.3 477.8,354.6 478.5,354.6 479.2,349.8 479.8,359.3 480.5,349.8 481.2,354.6 481.8,349.8 482.5,359.3 483.2,359.3 483.8,340.3 484.5,345.0 485.2,349.8 485.9,349.8 486.5,359.3 487.2,349.8 487.9,354.5 488.5,359.3 489.2,359.3 489.9,359.3 490.5,359.3 491.2,359.3 491.9,354.5 492.6,354.5 493.2,354.5 493.9,359.3 494.6,349.7 495.2,359.3 495.9,359.3 496.6,359.3 497.2,359.3 497.9,349.7 498.6,359.3 499.2,340.1 499.9,349.7 500.6,359.3 501.3,359.3 501.9,359.3 502.6,354.5 503.3,354.5 503.9,354.5 504.6,359.3 505.3,359.3 505.9,359.3 506.6,359.3 507.3,354.5 508.0,349.7 508.6,359.3 509.3,354.5 510.0,359.3 510.6,349.7 511.3,359.3 512.0,354.5 512.6,359.3 513.3,359.3 514.0,359.3 514.7,359.3 515.3,359.3 516.0,354.5 516.7,349.6 517.3,354.5 518.0,354.5 518.7,349.6 519.3,359.3 520.0,354.5 520.7,359.3 521.4,359.3 522.0,354.4 522.7,349.6 523.4,339.9 524.0,354.4 524.7,359.3 525.4,354.4 526.0,359.3 526.7,359.3 527.4,354.4 528.1,354.4 528.7,359.3 529.4,349.6 530.1,349.6 530.7,349.6 531.4,349.6 532.1,354.5 532.7,354.5 533.4,359.3 534.1,354.6 534.8,350.0 535.4,350.1 536.1,354.7 536.8,359.3 537.4,359.3 538.1,354.9 538.8,359.3 539.4,350.6 540.1,359.3 540.8,350.7 541.5,359.3 542.1,346.6 542.8,359.3 543.5,355.1 544.1,351.0 544.8,359.3 545.5,355.2 546.1,355.3 546.8,351.3 547.5,355.3 548.1,351.4 548.8,355.4 549.5,347.6 550.2,339.9 550.8,343.9 551.5,347.8 552.2,351.7 552.8,355.5 553.5,355.6 554.2,355.6 554.8,351.9 555.5,359.3 556.2,359.3 556.9,359.3 557.5,359.3 558.2,348.5 558.9,352.1 559.5,341.5 560.2,352.2 560.9,341.5 561.5,352.2 562.2,355.8 562.9,348.7 563.6,352.2 564.2,348.7 564.9,348.7 565.6,352.2 566.2,345.1 566.9,349.2 567.6,333.0 568.2,339.0 568.9,283.7 569.6,301.1 570.3,293.8 570.9,281.7 571.6,275.6 572.3,310.3 572.9,301.0 573.6,303.1 574.3,292.9 574.9,281.2 575.6,295.5 576.3,320.3 577.0,293.1 577.6,313.7 578.3,338.5 579.0,342.5 579.6,359.3 580.3,359.3 581.0,359.3 581.6,354.2 582.3,354.2 583.0,354.2 583.7,359.3 584.3,354.2 585.0,359.3 585.7,354.1 586.3,359.3 587.0,354.1 587.7,338.5 588.3,354.1 589.0,359.3 589.7,354.1 590.4,359.3 591.0,348.8 591.7,354.0 592.4,354.0 593.0,348.7 593.7,348.7 594.4,348.7 595.0,354.0 595.7,359.3 596.4,348.6 597.0,353.9 597.7,353.9 598.4,337.8 599.1,359.3 599.7,343.1 600.4,353.9 601.1,353.9 601.7,353.9 602.4,348.4 603.1,353.8 603.7,359.3 604.4,359.3 605.1,353.8 605.8,348.3 606.4,353.8 607.1,353.8 607.8,348.2 608.4,359.3 609.1,359.3 609.8,359.3 610.4,359.3 611.1,359.3 611.8,348.1 612.5,348.0 613.1,353.7 613.8,348.0 614.5,348.0 615.1,359.3 615.8,347.9 616.5,359.3 617.1,359.3 617.8,347.8 618.5,353.6 619.2,342.0 619.8,359.3 620.5,347.8 621.2,353.5 621.8,359.3 622.5,359.3 623.2,353.5 623.8,353.5 624.5,353.5 625.2,347.6 625.9,359.3 626.5,359.3 627.2,359.3 627.9,359.3 628.5,353.4 629.2,353.4 629.9,347.4 630.5,359.3 631.2,353.3 631.9,353.3 632.6,359.3 633.2,353.3 633.9,359.3 634.6,347.3 635.2,347.2 635.9,353.3 636.6,347.2 637.2,341.1 637.9,353.2 638.6,347.1 639.3,359.3 639.9,347.1 640.6,353.2 641.3,353.2 641.9,353.1 642.6,340.8 643.3,353.1 643.9,359.3 644.6,353.1 645.3,353.1 645.9,353.1 646.6,346.8 647.3,353.0 648.0,353.0 648.6,359.3 649.3,353.0 650.0,353.0 650.6,353.0 651.3,346.6 652.0,359.3 652.6,346.6 653.3,346.6 654.0,359.3 654.7,352.9 655.3,346.5 656.0,352.9 656.7,346.5 657.3,359.3 658.0,359.3 658.7,346.4 659.3,352.8 660.0,359.3 660.7,352.8 661.4,359.3 662.0,359.3 662.7,359.3 663.4,359.3 664.0,346.2 664.7,346.1 665.4,346.0 666.0,346.0 666.7,359.3 667.4,339.0 668.1,338.9 668.7,359.3 669.4,352.4 670.1,352.4 670.7,338.4 671.4,352.3 672.1,330.1 672.7,359.3 673.4,337.9 674.1,359.3 674.8,359.3 675.4,359.3 676.1,345.0 676.8,359.3 677.4,336.6 678.1,345.0 678.8,352.2 679.4,345.0 680.1,345.0 680.8,337.9 681.5,337.9 682.1,337.9 682.8,359.3 683.5,337.9 684.1,359.3 684.8,352.2 685.5,334.1 686.1,345.1 686.8,352.2 687.5,352.2 688.2,345.1 688.8,345.1 689.5,345.1 690.2,352.2 690.8,359.3 691.5,359.3 692.2,359.3 692.8,352.2 693.5,338.0 694.2,359.3 694.9,359.3 695.5,335.1 696.2,345.1 696.9,359.3 697.5,338.2 698.2,352.3 698.9,352.4 699.5,359.3 700.2,352.5 700.9,359.3 701.5,352.7 702.2,339.6 702.9,352.8 703.6,352.9 704.2,353.0 704.9,353.0 705.6,353.1 706.2,359.3 706.9,353.2 707.6,359.3 708.2,359.3 708.9,347.5 709.6,347.7 710.3,359.3 710.9,353.6 711.6,353.7 712.3,353.8" fill="none" stroke="#12f08a" stroke-width="1.15" stroke-linejoin="round"/>
<text x="478.6" y="305.9" class="el">Zn</text>
<text x="165.3" y="410.2" class="cap"><tspan font-size="23.5">(</tspan><tspan dy="-0.5" dx="-0.6" font-size="22" font-weight="bold">a</tspan><tspan dy="0.5" dx="-1.4" font-size="23.5">)</tspan></text>
<text x="526.4" y="410.2" class="cap"><tspan font-size="23.5">(</tspan><tspan dy="-0.6" dx="-0.6" font-size="22" font-weight="bold">b</tspan><tspan dy="0.6" dx="-1.4" font-size="23.5">)</tspan></text>
</svg>
</body></html>
